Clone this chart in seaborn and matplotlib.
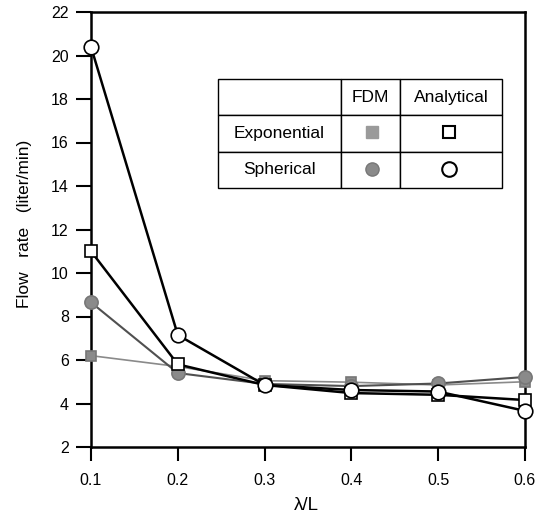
import numpy as np
import pandas as pd
import seaborn as sns
import matplotlib.pyplot as plt

sns.set_style("white")
plt.rcParams['font.family'] = ['Liberation Sans', 'DejaVu Sans']
plt.rcParams['text.color'] = 'black'
plt.rcParams['xtick.color'] = 'black'
plt.rcParams['ytick.color'] = 'black'
plt.rcParams['xtick.labelcolor'] = 'black'
plt.rcParams['ytick.labelcolor'] = 'black'

# lambda / L ratio
ratio = [0.1, 0.2, 0.3, 0.4, 0.5, 0.6]

# flow rate (liter/min)
fdm_exponential = [6.2, 5.7, 5.05, 4.98, 4.85, 5.0]
fdm_spherical = [8.65, 5.4, 4.9, 4.8, 4.92, 5.22]
ana_exponential = [11.0, 5.8, 4.85, 4.48, 4.4, 4.16]
ana_spherical = [20.4, 7.15, 4.85, 4.62, 4.55, 3.66]

row_labels = ["Exponential", "Spherical"]
col_labels = ["FDM", "Analytical"]

df = pd.DataFrame({
    "ratio": ratio * 4,
    "flow": fdm_exponential + fdm_spherical + ana_exponential + ana_spherical,
    "series": ["fdm_exp"] * 6 + ["fdm_sph"] * 6 + ["ana_exp"] * 6 + ["ana_sph"] * 6,
})

fig = plt.figure(figsize=(5.41, 5.13), dpi=100)
ax = fig.add_axes([91 / 541, 1 - 447 / 513, 434 / 541, 435 / 513])

styles = {
    "fdm_exp": dict(color="#8a8a8a", lw=1.2, marker="s", ms=7.5, mfc="#8a8a8a", mec="#777777"),
    "fdm_sph": dict(color="#505050", lw=1.5, marker="o", ms=9.5, mfc="#8a8a8a", mec="#777777"),
    "ana_exp": dict(color="black", lw=1.8, marker="s", ms=8, mfc="white", mec="black"),
    "ana_sph": dict(color="black", lw=1.8, marker="o", ms=10.5, mfc="white", mec="black"),
}
for name in ["fdm_exp", "fdm_sph", "ana_exp", "ana_sph"]:
    st = styles[name]
    sns.lineplot(data=df[df["series"] == name], x="ratio", y="flow", ax=ax,
                 color=st["color"], lw=st["lw"], marker=st["marker"], markersize=st["ms"],
                 markerfacecolor=st["mfc"], markeredgecolor=st["mec"], markeredgewidth=1.2,
                 clip_on=False, zorder=3)

ax.set_xlim(0.1, 0.6)
ax.set_ylim(2, 22)
ax.set_xticks(ratio)
ax.set_yticks(np.arange(2, 23, 2))
ax.set_xticklabels(["0.1", "0.2", "0.3", "0.4", "0.5", "0.6"])
ax.tick_params(axis="y", direction="out", length=11, width=1.5, labelsize=11.5, pad=5,
               left=True, right=False, colors="black")
ax.tick_params(axis="x", direction="out", length=10, width=1.5, labelsize=11.5, pad=8.5,
               bottom=True, top=False, colors="black")
for sp in ax.spines.values():
    sp.set_linewidth(1.8)
    sp.set_color("black")
ax.set_xlabel("")
ax.set_ylabel("")
fig.text(306 / 541, 1 - 506 / 513, "λ/L", fontsize=13.5, ha="center", va="center")
fig.text(25 / 541, 1 - 224 / 513, "Flow   rate   (liter/min)", fontsize=12.5,
         rotation=90, ha="center", va="center")

# legend table
tab = ax.table(cellText=[[""] + col_labels, [row_labels[0], "", ""], [row_labels[1], "", ""]],
               colWidths=[0.433, 0.208, 0.359], cellLoc="center",
               bbox=[0.2926, 0.5954, 0.654, 0.2506])
tab.auto_set_font_size(False)
tab.set_fontsize(12.5)
for cell in tab.get_celld().values():
    cell.set_linewidth(1.0)
    cell.set_edgecolor("black")
    cell.get_text().set_color("black")

x_fdm = (372 - 91) / 434
x_ana = (449 - 91) / 434
y_exp = (447 - 132) / 435
y_sph = (447 - 169) / 435
ax.plot([x_fdm], [y_exp], transform=ax.transAxes, marker="s", ms=8.5, mfc="#9a9a9a", mec="#9a9a9a", ls="none", zorder=5)
ax.plot([x_fdm], [y_sph], transform=ax.transAxes, marker="o", ms=9.5, mfc="#8a8a8a", mec="#777777", ls="none", zorder=5)
ax.plot([x_ana], [y_exp], transform=ax.transAxes, marker="s", ms=9, mfc="white", mec="black", mew=1.5, ls="none", zorder=5)
ax.plot([x_ana], [y_sph], transform=ax.transAxes, marker="o", ms=10.5, mfc="white", mec="black", mew=1.5, ls="none", zorder=5)

fig.savefig("out.png", dpi=100)
